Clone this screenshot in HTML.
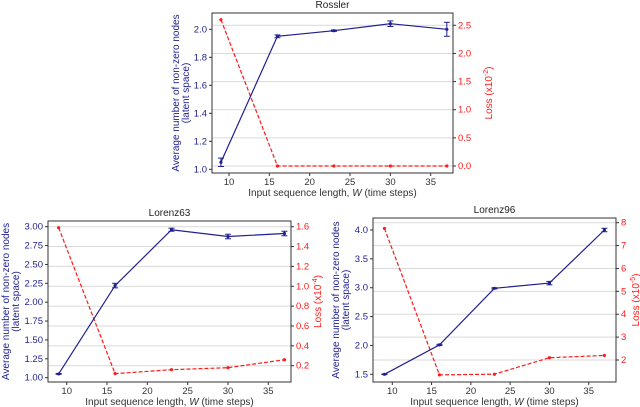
<!DOCTYPE html>
<html><head><meta charset="utf-8"><style>
body{margin:0;background:#fff;}
svg{display:block;font-family:"Liberation Sans","DejaVu Sans",sans-serif;}
</style></head><body>
<svg id="chart" width="640" height="407"></svg>
<script>
const xCats=[9,16,23,30,37];
const xTicks=[10,15,20,25,30,35];
const rosNodes=[1.05,1.95,1.99,2.04,2.00];
const rosNodesErr=[0.03,0.01,0.005,0.02,0.05];
const rosLoss=[2.6,0.0,0.0,0.0,0.0];
const rosLeftTicks=[1.0,1.2,1.4,1.6,1.8,2.0];
const rosRightTicks=[0.0,0.5,1.0,1.5,2.0,2.5];
const l63Nodes=[1.05,2.22,2.96,2.87,2.91];
const l63NodesErr=[0.005,0.03,0.02,0.03,0.03];
const l63Loss=[1.59,0.12,0.16,0.18,0.26];
const l63LeftTicks=[1.00,1.25,1.50,1.75,2.00,2.25,2.50,2.75,3.00];
const l63RightTicks=[0.2,0.4,0.6,0.8,1.0,1.2,1.4,1.6];
const l96Nodes=[1.5,2.01,2.99,3.08,4.0];
const l96NodesErr=[0.005,0.01,0.01,0.03,0.03];
const l96Loss=[7.75,1.35,1.38,2.1,2.2];
const l96LeftTicks=[1.5,2.0,2.5,3.0,3.5,4.0];
const l96RightTicks=[2,3,4,5,6,7,8];

const NS="http://www.w3.org/2000/svg";
const svg=document.getElementById('chart');
const BLUE="#1f1f8f",RED="#ff1a1a";
function mk(tag,attrs,parent,name){const e=document.createElementNS(NS,tag);for(const k in attrs)e.setAttribute(k,attrs[k]);


(parent||svg).appendChild(e);return e;}
function lin(d0,d1,r0,r1){return v=>r0+(v-d0)*(r1-r0)/(d1-d0);}

function chart(c){
 const g=mk('g',{},svg,c.id+'-chart');
 const X=lin(10,35,c.x10,c.x35);
 const YL=lin(c.l0v,c.l1v,c.l0p,c.l1p);
 const YR=lin(c.r0v,c.r1v,c.r0p,c.r1p);
 c.rt.forEach(v=>{mk('line',{x1:c.L,x2:c.R,y1:YR(v),y2:YR(v),stroke:"#d9d9d9","stroke-width":1},g,'gridline');});
 mk('rect',{x:c.L,y:c.T,width:c.R-c.L,height:c.B-c.T,fill:"none",stroke:"#333","stroke-width":1},g,'plot-frame');
 xTicks.forEach(v=>{mk('line',{x1:X(v),x2:X(v),y1:c.B,y2:c.B+3,stroke:"#333"},g,'x-tick');
  const t=mk('text',{x:X(v),y:c.B+12,"font-size":9.5,"text-anchor":"middle",fill:"#333"},g,'x-tick-label');t.textContent=v;});
 c.lt.forEach(v=>{mk('line',{x1:c.L-3,x2:c.L,y1:YL(v),y2:YL(v),stroke:"#333"},g,'left-tick');
  const t=mk('text',{x:c.L-5,y:YL(v)+3,"font-size":9.5,"text-anchor":"end",fill:BLUE},g,'left-tick-label');t.textContent=v.toFixed(c.ld);});
 c.rt.forEach(v=>{mk('line',{x1:c.R,x2:c.R+3,y1:YR(v),y2:YR(v),stroke:"#333"},g,'right-tick');
  const t=mk('text',{x:c.R+5,y:YR(v)+3,"font-size":9.5,"text-anchor":"start",fill:RED},g,'right-tick-label');t.textContent=v.toFixed(c.rd);});
 mk('polyline',{points:xCats.map((x,i)=>X(x)+','+YR(c.loss[i])).join(' '),fill:"none",stroke:RED,"stroke-width":1.2,"stroke-dasharray":"4,2"},g,'loss-line');
 xCats.forEach((x,i)=>mk('circle',{cx:X(x),cy:YR(c.loss[i]),r:1.6,fill:RED},g,'loss-point'));
 mk('polyline',{points:xCats.map((x,i)=>X(x)+','+YL(c.nodes[i])).join(' '),fill:"none",stroke:BLUE,"stroke-width":1.2},g,'nodes-line');
 xCats.forEach((x,i)=>{const cx=X(x),y1=YL(c.nodes[i]-c.err[i]),y2=YL(c.nodes[i]+c.err[i]);
  mk('line',{x1:cx,x2:cx,y1:y1,y2:y2,stroke:BLUE,"stroke-width":1},g,'error-bar');
  mk('line',{x1:cx-3,x2:cx+3,y1:y1,y2:y1,stroke:BLUE,"stroke-width":1},g,'error-cap');
  mk('line',{x1:cx-3,x2:cx+3,y1:y2,y2:y2,stroke:BLUE,"stroke-width":1},g,'error-cap');
  mk('circle',{cx:cx,cy:YL(c.nodes[i]),r:1.6,fill:BLUE},g,'nodes-point');});
 const t=mk('text',{x:(c.L+c.R)/2,y:c.T-5,"font-size":10,"text-anchor":"middle",fill:"#222"},g,'chart-title');t.textContent=c.title;
 const xl=mk('text',{x:(c.L+c.R)/2,y:c.B+23,"font-size":10,"text-anchor":"middle",fill:"#333"},g,'x-axis-title');
 xl.innerHTML='Input sequence length, <tspan font-style="italic">W</tspan> (time steps)';
 const my=(c.T+c.B)/2;
 const a=mk('text',{x:0,y:0,"font-size":10,"text-anchor":"middle",fill:BLUE,transform:`translate(${c.yl1},${my}) rotate(-90)`},g,'left-axis-title');a.textContent='Average number of non-zero nodes';
 const b=mk('text',{x:0,y:0,"font-size":10,"text-anchor":"middle",fill:BLUE,transform:`translate(${c.yl1+10},${my}) rotate(-90)`},g,'left-axis-title-2');b.textContent='(latent space)';
 const r=mk('text',{x:0,y:0,"font-size":10,"text-anchor":"middle",fill:RED,transform:`translate(${c.yr},${my}) rotate(-90)`},g,'right-axis-title');
 r.innerHTML='Loss (x10<tspan dy="-4" font-size="7">'+c.exp+'</tspan><tspan dy="4">)</tspan>';
}
chart({id:'rossler',title:'Rossler',L:212,R:453,T:13,B:173,x10:229,x35:430.7,l0v:1.0,l1v:2.0,l0p:169.3,l1p:29.3,r0v:0,r1v:2.5,r0p:166,r1p:25.3,
 lt:rosLeftTicks,rt:rosRightTicks,ld:1,rd:1,nodes:rosNodes,err:rosNodesErr,loss:rosLoss,yl1:179,yr:492,exp:'-2'});
chart({id:'lorenz63',title:'Lorenz63',L:48,R:291,T:221,B:382,x10:66.7,x35:268.3,l0v:1.0,l1v:3.0,l0p:377.7,l1p:226.7,r0v:0.2,r1v:1.6,r0p:365.7,r1p:226.7,
 lt:l63LeftTicks,rt:l63RightTicks,ld:2,rd:1,nodes:l63Nodes,err:l63NodesErr,loss:l63Loss,yl1:9,yr:321,exp:'-4'});
chart({id:'lorenz96',title:'Lorenz96',L:373,R:616,T:218,B:382,x10:392.3,x35:588.7,l0v:1.5,l1v:4.0,l0p:374.3,l1p:230,r0v:2,r1v:8,r0p:360,r1p:222.7,
 lt:l96LeftTicks,rt:l96RightTicks,ld:1,rd:0,nodes:l96Nodes,err:l96NodesErr,loss:l96Loss,yl1:339,yr:639,exp:'-5'});
</script>
</body></html>
